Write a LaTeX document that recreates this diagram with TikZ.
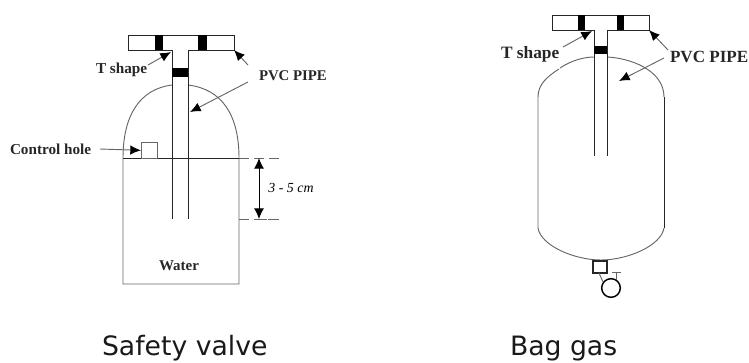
\documentclass[tikz,border=0pt]{standalone}
\usepackage{fontspec}
\setmainfont{Liberation Serif}
\newfontfamily\capfont{DejaVu Sans}
\usetikzlibrary{arrows.meta}
\definecolor{ln}{gray}{0.15}
\definecolor{lg}{gray}{0.40}
\tikzset{
 x=0.75pt,y=-0.75pt,
 every node/.style={inner sep=0pt,outer sep=0pt},
 pipe/.style={draw=ln,line width=0.7pt},
 shell/.style={draw=lg,line width=0.7pt},
 plug/.style={fill=black,draw=none},
 lead/.style={draw=lg,line width=0.7pt,-{Latex[length=8pt,width=7pt,black]}},
 dim/.style={draw=black,line width=0.7pt,{Latex[length=8pt,width=7.5pt,black]}-{Latex[length=8pt,width=7.5pt,black]}},
 guide/.style={draw=lg,line width=0.7pt},
 lab/.style={font=\bfseries\fontsize{11.4}{13}\selectfont,text=black!85},
 pvc/.style={font=\bfseries\fontsize{11.1}{13}\selectfont,text=black!85},
 caption/.style={font=\capfont\fontsize{20}{22}\selectfont,text=black!90}
}
\begin{document}
\begin{tikzpicture}
\useasboundingbox (0,0) rectangle (749,362);
% ---- left: safety valve
\draw[shell] (172,85) .. controls (140,89) and (123,115) .. (123,158) -- (123,284) -- (239,284) -- (239,158) .. controls (239,115) and (222,89) .. (188,85);
\draw[pipe] (123,158) -- (239,158);
\draw[guide] (239,158) -- (279,158);
\fill[white] (249,156) rectangle (254,160);
\fill[white] (264,156) rectangle (269,160);
\draw[guide] (239,219) -- (279,219);
\fill[white] (249,217) rectangle (254,221);
\fill[white] (267,217) rectangle (268,221);
\draw[pipe] (128,35) -- (234,35) -- (234,50) -- (188,50) -- (188,219);
\draw[pipe] (172,219) -- (172,50) -- (128,50) -- (128,35);
\fill[plug] (155,35) rectangle (163,50);
\fill[plug] (198,35) rectangle (207,50);
\fill[plug] (172,68) rectangle (188,77);
\node[draw=lg,line width=0.7pt,minimum width=12pt,minimum height=11.5pt,anchor=south west] (hole) at (141,158) {};
\node[lab,anchor=west] (tshape) at (96,70) {T shape};
\node[pvc,anchor=west] (pvc) at (259,76) {PVC PIPE};
\node[lab,anchor=west] (ctrl) at (10,149) {Control hole};
\node[font=\bfseries\fontsize{11.2}{13}\selectfont,text=black!85] (water) at (179,266) {Water};
\node[font=\itshape\fontsize{10.4}{12}\selectfont] (dimtxt) at (291,188) {3 - 5 cm};
\coordinate (tin) at (171,52);
\coordinate (tend) at (234,50);
\coordinate (pipein) at (190,112);
\coordinate (dtop) at (259,158);
\coordinate (dbot) at (259,219);
\draw[lead] (148,65) -- (tin);
\draw[lead] (248,65) -- (tend);
\draw[lead] (248,82) -- (pipein);
\draw[lead] (100,149) -- (hole.west);
\draw[dim] (dtop) -- (dbot);
\node[caption,anchor=base west] (c1) at (102,355.5) {Safety valve};
% ---- right: bag gas
\draw[shell] (560,68) .. controls (572,60) and (585,57) .. (594,57);
\draw[shell] (538,228) -- (538,97) .. controls (538,84) and (548,76) .. (559,69);
\draw[shell] (538,228) .. controls (541,246) and (575,260) .. (601,260) .. controls (627,260) and (661,246) .. (664,228);
\draw[shell] (607,57) .. controls (630,58) and (664,70) .. (664,97);
\draw[pipe] (664,97) -- (664,228);
\draw[pipe] (552,15) -- (649,15) -- (649,30) -- (607,30) -- (607,156);
\draw[pipe] (594,156) -- (594,30) -- (552,30) -- (552,15);
\fill[plug] (578,15) rectangle (585,30);
\fill[plug] (617,15) rectangle (624,30);
\fill[plug] (594,46) rectangle (607,54);
\node[draw=ln,line width=1.1pt,minimum width=10.5pt,minimum height=9pt,anchor=north west] (valve) at (593,261) {};
\node[draw=black,line width=1.1pt,circle,minimum size=14pt] (wheel) at (611,288) {};
\coordinate (vl) at (599,273);
\coordinate (wl) at (603,282);
\coordinate (vr) at (616,272);
\coordinate (wr) at (616,280);
\coordinate (tl) at (612,272);
\coordinate (tr) at (621,272);
\draw[guide] (vl) -- (wl);
\draw[guide] (vr) -- (wr);
\draw[guide] (tl) -- (tr);
\node[lab,font=\bfseries\fontsize{13}{15}\selectfont,anchor=west] (t2) at (501,54) {T shape};
\node[pvc,font=\bfseries\fontsize{12.8}{15}\selectfont,anchor=west] (p2) at (670,57) {PVC PIPE};
\coordinate (t2in) at (592,31);
\coordinate (t2end) at (649,30);
\coordinate (p2in) at (619,81);
\draw[lead] (563,47) -- (t2in);
\draw[lead] (668,50) -- (t2end);
\draw[lead] (664,58) -- (p2in);
\node[caption,anchor=base west] (c2) at (510,355.5) {Bag gas};
\end{tikzpicture}
\end{document}
